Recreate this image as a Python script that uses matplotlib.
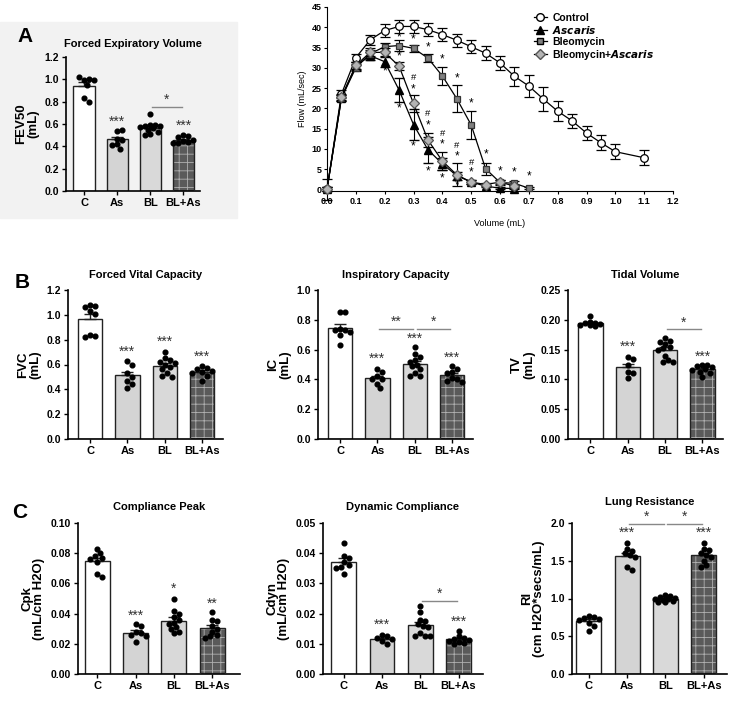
import numpy as np
import matplotlib
matplotlib.use('Agg')
import matplotlib.pyplot as plt
from matplotlib.patches import Rectangle
from matplotlib.lines import Line2D

plt.rcParams['font.family'] = ['Liberation Sans', 'DejaVu Sans']
plt.rcParams['font.weight'] = 'bold'
plt.rcParams['hatch.linewidth'] = 0.6

groups = ['C', 'As', 'BL', 'BL+As']

# individual animals per group
fev_c = [0.99, 1.00, 1.02, 0.99, 0.95, 0.83, 0.80]
fev_as = [0.54, 0.55, 0.47, 0.46, 0.42, 0.38, 0.41]
fev_bl = [0.69, 0.59, 0.59, 0.58, 0.58, 0.57, 0.56, 0.55, 0.53, 0.51, 0.50]
fev_blas = [0.50, 0.49, 0.48, 0.46, 0.45, 0.44, 0.43, 0.43]

fvc_c = [1.08, 1.07, 1.06, 1.03, 1.01, 0.84, 0.83, 0.82]
fvc_as = [0.63, 0.60, 0.53, 0.50, 0.47, 0.44, 0.41]
fvc_bl = [0.70, 0.65, 0.64, 0.62, 0.61, 0.60, 0.58, 0.56, 0.53, 0.51, 0.50]
fvc_blas = [0.59, 0.57, 0.56, 0.55, 0.54, 0.53, 0.51, 0.47]

ic_c = [0.85, 0.85, 0.74, 0.73, 0.73, 0.72, 0.70, 0.63]
ic_as = [0.47, 0.45, 0.42, 0.40, 0.40, 0.37, 0.34]
ic_bl = [0.62, 0.57, 0.55, 0.53, 0.52, 0.50, 0.49, 0.47, 0.44, 0.42, 0.42]
ic_blas = [0.49, 0.47, 0.45, 0.44, 0.41, 0.40, 0.39, 0.38]

tv_c = [0.207, 0.197, 0.195, 0.194, 0.193, 0.192, 0.191, 0.189]
tv_as = [0.137, 0.135, 0.124, 0.113, 0.110, 0.102]
tv_bl = [0.170, 0.165, 0.163, 0.160, 0.155, 0.152, 0.150, 0.140, 0.132, 0.130, 0.130]
tv_blas = [0.125, 0.125, 0.122, 0.120, 0.117, 0.115, 0.113, 0.110, 0.104]

cpk_c = [0.083, 0.080, 0.078, 0.077, 0.076, 0.074, 0.066, 0.064]
cpk_as = [0.033, 0.032, 0.028, 0.027, 0.026, 0.025, 0.021]
cpk_bl = [0.050, 0.042, 0.040, 0.038, 0.036, 0.034, 0.033, 0.031, 0.030, 0.028, 0.027]
cpk_blas = [0.041, 0.036, 0.035, 0.032, 0.030, 0.028, 0.026, 0.025, 0.024]

cdyn_c = [0.0435, 0.039, 0.0385, 0.037, 0.036, 0.0355, 0.035, 0.033]
cdyn_as = [0.0130, 0.0125, 0.0118, 0.0115, 0.0110, 0.0098]
cdyn_bl = [0.0225, 0.0205, 0.018, 0.0175, 0.0165, 0.016, 0.0155, 0.0135, 0.0125, 0.0125, 0.0125]
cdyn_blas = [0.0143, 0.0125, 0.012, 0.0115, 0.0112, 0.011, 0.0105, 0.0102, 0.010]

rl_c = [0.77, 0.76, 0.74, 0.73, 0.71, 0.68, 0.63, 0.57]
rl_as = [1.73, 1.66, 1.63, 1.60, 1.57, 1.55, 1.42, 1.38]
rl_bl = [1.04, 1.03, 1.02, 1.01, 1.00, 0.99, 0.98, 0.97, 0.96, 0.95]
rl_blas = [1.74, 1.66, 1.64, 1.60, 1.58, 1.55, 1.50, 1.44, 1.42]

# flow-volume loops (mean, sem)
vol_ctrl = [0.0, 0.05, 0.10, 0.15, 0.20, 0.25, 0.30, 0.35, 0.40, 0.45, 0.50, 0.55,
            0.60, 0.65, 0.70, 0.75, 0.80, 0.85, 0.90, 0.95, 1.00, 1.10]
flow_ctrl = [0, 23.5, 32.5, 36.9, 39.2, 40.2, 40.2, 39.4, 38.2, 36.8, 35.2, 33.6,
             31.2, 27.9, 25.5, 22.3, 19.3, 16.9, 13.9, 11.5, 9.3, 7.8]
sem_ctrl = [2.5, 0.9, 1.0, 1.2, 1.5, 1.7, 1.7, 1.6, 1.5, 1.6, 1.6, 1.7,
            1.8, 2.4, 2.8, 2.9, 2.5, 1.8, 1.8, 1.8, 1.9, 1.9]
vol_asc = [0.0, 0.05, 0.10, 0.15, 0.20, 0.25, 0.30, 0.35, 0.40, 0.45, 0.50, 0.55, 0.60, 0.65]
flow_asc = [0, 22.5, 30.5, 33.0, 31.5, 24.5, 16.0, 9.8, 6.3, 3.4, 1.8, 0.8, 0.3, 0.2]
sem_asc = [0.5, 0.8, 1.0, 1.0, 1.2, 3.0, 3.8, 3.2, 1.5, 1.0, 0.5, 0.3, 0.2, 0.2]
vol_bleo = [0.0, 0.05, 0.10, 0.15, 0.20, 0.25, 0.30, 0.35, 0.40, 0.45, 0.50, 0.55, 0.60, 0.65, 0.70]
flow_bleo = [0, 22.5, 30.0, 33.5, 35.2, 35.5, 34.8, 32.4, 28.0, 22.4, 15.9, 5.1, 1.7, 1.5, 0.3]
sem_bleo = [0.5, 0.8, 0.9, 1.0, 1.0, 1.3, 0.8, 1.0, 2.2, 3.3, 3.4, 1.5, 0.5, 0.5, 0.2]
vol_ba = [0.0, 0.05, 0.10, 0.15, 0.20, 0.25, 0.30, 0.35, 0.40, 0.45, 0.50, 0.55, 0.60, 0.65]
flow_ba = [0, 22.8, 30.6, 33.8, 33.8, 30.4, 21.2, 12.2, 7.0, 3.6, 1.8, 1.2, 1.8, 0.8]
sem_ba = [0.5, 0.8, 0.9, 1.0, 1.0, 1.0, 2.0, 1.8, 2.2, 2.8, 0.5, 0.4, 0.4, 0.3]

# significance marks on the flow-volume plot
sig_x = [0.25, 0.30, 0.35, 0.40, 0.45, 0.50, 0.55, 0.60, 0.65, 0.70,
         0.20, 0.25, 0.30, 0.35, 0.40, 0.45,
         0.25, 0.30, 0.30, 0.35, 0.35, 0.40, 0.40, 0.45, 0.45, 0.50, 0.50]
sig_y = [37.4, 37.0, 35.0, 32.0, 27.3, 21.3, 8.6, 4.4, 4.2, 3.3,
         29.0, 20.0, 10.5, 4.5, 2.6, 0.9,
         32.8, 27.6, 24.6, 18.6, 15.7, 13.8, 11.0, 10.9, 8.2, 6.6, 4.1]
sig_txt = ['*'] * 16 + ['*', '#', '*', '#', '*', '#', '*', '#', '*', '#', '*']

W, H = 740, 706
fig = plt.figure(figsize=(W / 100, H / 100), dpi=100)

# grey backdrop behind panel A
fig.patches.append(Rectangle((0, 1 - 218 / H), 237 / W, (218 - 22) / H,
                             transform=fig.transFigure, color='#f2f2f2', zorder=-10))


def box(l, t, r, b):
    return fig.add_axes([l / W, 1 - b / H, (r - l) / W, (b - t) / H])


def swarm(ax, x0, vals, d=5.0, half=10.0):
    # simple beeswarm in pixel space, kept inside the bar
    pts = ax.transData.transform(np.column_stack([np.full(len(vals), x0), vals]))
    cx = pts[0, 0]
    cands = [0.0]
    step = d * 0.5
    k = 1
    while k * step <= half:
        cands += [k * step, -k * step]
        k += 1
    placed = []
    out = []
    for y in pts[:, 1]:
        best, best_gap = None, -1
        for o in cands:
            gap = min([np.hypot(o - px, y - py) for px, py in placed] or [99])
            if gap >= d:
                best = o
                break
            if gap > best_gap:
                best, best_gap = o, gap
        placed.append((best, y))
        out.append((cx + best, y))
    inv = ax.transData.inverted().transform(np.array(out))
    return inv[:, 0], inv[:, 1]


fills = ['white', '#d4d4d4', '#d9d9d9', '#5a5a5a']


def bar_panel(ax, data, ylim, yticks, fmt, title, ylabel, xlim, stars, brackets, tpad=9):
    ax.set_xlim(*xlim)
    ax.set_ylim(*ylim)
    for i, vals in enumerate(data):
        vals = np.array(vals)
        m = vals.mean()
        se = vals.std(ddof=1) / np.sqrt(len(vals))
        if i == 3:
            ax.bar(i, m, width=0.65, color=fills[i], edgecolor='#b0b0b0', hatch='++',
                   linewidth=0, zorder=2)
            ax.bar(i, m, width=0.65, fill=False, edgecolor='#222222', linewidth=1.0, zorder=3)
        else:
            ax.bar(i, m, width=0.65, color=fills[i], edgecolor='#222222', linewidth=1.0, zorder=2)
        ax.errorbar(i, m, yerr=[[0], [se]], color='#222222', capsize=4, elinewidth=1.0,
                    capthick=1.0, zorder=4)
        sx, sy = swarm(ax, i, vals)
        ax.plot(sx, sy, 'o', color='black', markersize=3.4, zorder=5, clip_on=False)
    for i, y, s in stars:
        ax.text(i, y, s, ha='center', va='center', fontsize=10, fontweight='normal',
                color='#333333')
    for i0, i1, y, s in brackets:
        ax.plot([i0 + 0.05, i1 - 0.05], [y, y], color='#888888', lw=1.0, clip_on=False)
        ax.text((i0 + i1) / 2, y, s, ha='center', va='bottom', fontsize=10,
                fontweight='normal', color='#333333')
    ax.set_yticks(yticks)
    ax.set_yticklabels([fmt.format(v) for v in yticks], fontsize=7.5, fontweight='bold')
    ax.set_xticks(range(4))
    ax.set_xticklabels(groups, fontsize=8, fontweight='bold')
    ax.set_title(title, fontsize=8, fontweight='bold', pad=tpad)
    ax.set_ylabel(ylabel, fontsize=9.5, fontweight='bold', linespacing=1.0)
    ax.spines['top'].set_visible(False)
    ax.spines['right'].set_visible(False)
    for sp in ['left', 'bottom']:
        ax.spines[sp].set_linewidth(1.2)
    ax.tick_params(width=1.0, length=3, pad=2)
    ax.patch.set_alpha(0)


# panel A bars
ax = box(66, 57, 200, 191)
bar_panel(ax, [fev_c, fev_as, fev_bl, fev_blas], (0, 1.2), np.arange(0, 1.21, 0.2), '{:.1f}',
          'Forced Expiratory Volume', 'FEV50\n(mL)', (-0.55, 3.5),
          [(1, 0.62, '***'), (3, 0.58, '***')], [(2, 3, 0.75, '*')], tpad=7)

# flow-volume curve
ax = box(327, 7, 673, 191)
ax.errorbar(vol_ctrl, flow_ctrl, yerr=sem_ctrl, color='black', lw=0.9, marker='o',
            markersize=5.5, markerfacecolor='white', markeredgecolor='black', mew=0.9,
            capsize=3.5, elinewidth=0.8, zorder=3, clip_on=False)
ax.errorbar(vol_asc, flow_asc, yerr=sem_asc, color='black', lw=0.9, marker='^',
            markersize=5.5, markerfacecolor='black', capsize=3.5, elinewidth=0.8,
            zorder=4, clip_on=False)
ax.errorbar(vol_bleo, flow_bleo, yerr=sem_bleo, color='black', lw=0.9, marker='s',
            markersize=5, markerfacecolor='#808080', markeredgecolor='#333333', mew=0.9,
            capsize=3.5, elinewidth=0.8, zorder=5, clip_on=False)
ax.errorbar(vol_ba, flow_ba, yerr=sem_ba, color='black', lw=0.9, marker='D',
            markersize=5, markerfacecolor='#b4b4b4', markeredgecolor='#555555', mew=0.9,
            capsize=3.5, elinewidth=0.8, zorder=6, clip_on=False)
for x, y, s in zip(sig_x, sig_y, sig_txt):
    ax.text(x, y, s, ha='center', va='center', fontsize=8.5 if s == '*' else 6.8,
            fontweight='normal', zorder=7)
ax.set_xlim(0, 1.2)
ax.set_ylim(-0.4, 45)
ax.set_xticks(np.arange(0, 1.21, 0.1))
ax.set_xticklabels(['{:.1f}'.format(v) for v in np.arange(0, 1.21, 0.1)], fontsize=6.5)
ax.set_yticks(range(0, 46, 5))
ax.set_yticklabels([str(v) for v in range(0, 46, 5)], fontsize=6.5)
ax.set_xlabel('Volume (mL)', fontsize=6.5, labelpad=10)
ax.set_ylabel('Flow (mL/sec)', fontsize=6.5, labelpad=3)
ax.spines['top'].set_visible(False)
ax.spines['right'].set_visible(False)
ax.tick_params(width=0.8, length=2.5, pad=1.5)
handles = [
    Line2D([], [], color='black', lw=0.9, marker='o', markersize=5.5, markerfacecolor='white'),
    Line2D([], [], color='black', lw=0.9, marker='^', markersize=5.5, markerfacecolor='black'),
    Line2D([], [], color='black', lw=0.9, marker='s', markersize=5, markerfacecolor='#808080'),
    Line2D([], [], color='black', lw=0.9, marker='D', markersize=5,
           markerfacecolor='#b4b4b4', markeredgecolor='#555555'),
]
leg = ax.legend(handles, ['Control', r'$\bf{\it{Ascaris}}$', 'Bleomycin',
                          r'Bleomycin+$\bf{\it{Ascaris}}$'],
                loc='upper left', bbox_to_anchor=(0.57, 1.02), frameon=False,
                fontsize=7.5, handlelength=1.3, handletextpad=0.5, labelspacing=0.1)

# panel B
ax = box(68, 290, 223, 439)
bar_panel(ax, [fvc_c, fvc_as, fvc_bl, fvc_blas], (0, 1.2), np.arange(0, 1.21, 0.2), '{:.1f}',
          'Forced Vital Capacity', 'FVC\n(mL)', (-0.59, 3.56),
          [(1, 0.70, '***'), (2, 0.785, '***'), (3, 0.66, '***')], [])
ax = box(318, 290, 473, 439)
bar_panel(ax, [ic_c, ic_as, ic_bl, ic_blas], (0, 1.0), np.arange(0, 1.01, 0.2), '{:.1f}',
          'Inspiratory Capacity', 'IC\n(mL)', (-0.59, 3.56),
          [(1, 0.54, '***'), (2, 0.67, '***'), (3, 0.545, '***')],
          [(1, 2, 0.737, '**'), (2, 3, 0.737, '*')])
ax = box(568, 290, 723, 439)
bar_panel(ax, [tv_c, tv_as, tv_bl, tv_blas], (0, 0.25), np.arange(0, 0.251, 0.05), '{:.2f}',
          'Tidal Volume', 'TV\n(mL)', (-0.6, 3.55),
          [(1, 0.154, '***'), (3, 0.138, '***')], [(2, 3, 0.184, '*')])

# panel C
ax = box(78, 523, 240, 674)
bar_panel(ax, [cpk_c, cpk_as, cpk_bl, cpk_blas], (0, 0.10), np.arange(0, 0.101, 0.02), '{:.2f}',
          'Compliance Peak', 'Cpk\n(mL/cm H2O)', (-0.5, 3.72),
          [(1, 0.0385, '***'), (2, 0.0566, '*'), (3, 0.0467, '**')], [])
ax = box(323, 523, 483, 674)
bar_panel(ax, [cdyn_c, cdyn_as, cdyn_bl, cdyn_blas], (0, 0.05), np.arange(0, 0.051, 0.01),
          '{:.2f}', 'Dynamic Compliance', 'Cdyn\n(mL/cm H2O)', (-0.54, 3.64),
          [(1, 0.0163, '***'), (3, 0.0174, '***')], [(2, 3, 0.0243, '*')])
ax = box(572, 523, 727, 674)
bar_panel(ax, [rl_c, rl_as, rl_bl, rl_blas], (0, 2.0), np.arange(0, 2.01, 0.5), '{:.1f}',
          'Lung Resistance', 'Rl\n(cm H2O*secs/mL)', (-0.43, 3.6),
          [(1, 1.87, '***'), (3, 1.87, '***')], [(1, 2, 1.99, '*'), (2, 3, 1.99, '*')],
          tpad=13)

for s, x, y in [('A', 25, 36), ('B', 22, 283), ('C', 20, 513)]:
    fig.text(x / W, 1 - y / H, s, fontsize=15, fontweight='bold', ha='center', va='center')

fig.savefig('out.png', dpi=100)
